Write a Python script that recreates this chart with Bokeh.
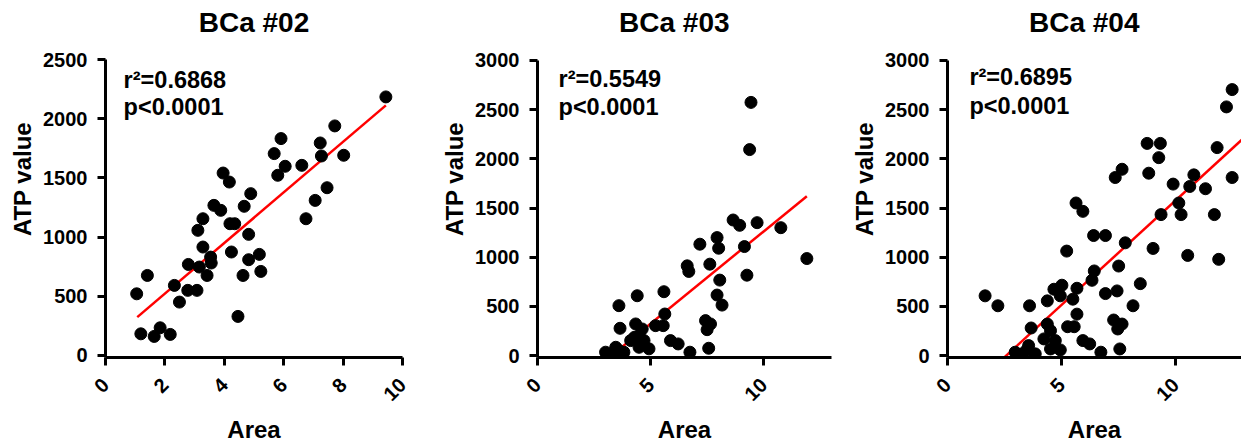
import math
from bokeh.plotting import figure
from bokeh.models import Label, FixedTicker, Range1d
from bokeh.layouts import row
from bokeh.embed import file_html
from bokeh.resources import INLINE

# ---------------- data ----------------
titles = ["BCa #02", "BCa #03", "BCa #04"]
r2_texts = ["r\u00b2=0.6868", "r\u00b2=0.5549", "r\u00b2=0.6895"]
p_text = "p<0.0001"
x_label = "Area"
y_label = "ATP value"

area_02 = [1.05, 1.19, 1.41, 1.64, 1.84, 2.18, 2.32, 2.49, 2.79, 2.77, 3.08, 3.11, 3.28, 3.28,
           3.16, 3.42, 3.54, 3.56, 3.65, 3.88, 3.96, 4.17, 4.19, 4.24, 4.35, 4.46, 4.63, 4.67,
           4.82, 4.82, 4.89, 5.18, 5.23, 5.68, 5.80, 5.91, 6.05, 6.61, 6.75, 7.06, 7.23, 7.27,
           7.46, 7.72, 8.02, 9.44]
atp_02 = [521, 183, 676, 161, 234, 178, 592, 451, 769, 550, 550, 1057, 1155, 916,
          747, 676, 831, 781, 1268, 1226, 1541, 1465, 1113, 874, 1113, 330, 676, 1260,
          1023, 809, 1367, 854, 710, 1705, 1522, 1832, 1598, 1606, 1155, 1310, 1795, 1685,
          1417, 1939, 1691, 2184]

area_03 = [3.01, 3.24, 3.46, 3.60, 3.65, 3.60, 3.82, 4.12, 4.34, 4.41, 4.49, 4.49, 4.71, 4.93,
           4.63, 4.29, 5.22, 5.56, 5.59, 5.63, 5.88, 6.22, 6.62, 6.69, 6.74, 7.18, 7.43, 7.50,
           7.57, 7.65, 7.62, 7.94, 8.01, 7.94, 8.06, 8.16, 8.65, 8.94, 9.15, 9.26, 9.38, 9.44,
           9.71, 10.76, 11.91]
atp_03 = [34, 17, 84, 507, 277, 51, 34, 152, 321, 608, 203, 84, 152, 68,
          270, 186, 304, 304, 649, 422, 152, 118, 912, 855, 34, 1132, 355, 263,
          74, 321, 929, 1199, 1091, 615, 767, 513, 1378, 1324, 1108, 817, 2094, 2574,
          1351, 1300, 986]

area_04 = [1.65, 2.21, 2.97, 3.27, 3.48, 3.60, 3.67, 3.85, 3.56, 4.38, 4.38, 4.23, 4.52, 4.67,
           4.73, 4.95, 4.52, 5.02, 4.95, 5.23, 5.27, 5.50, 5.56, 5.64, 5.68, 5.68, 5.94, 5.94,
           6.24, 6.34, 6.44, 6.41, 6.93, 6.93, 6.73, 7.36, 7.66, 7.29, 7.44, 7.51, 7.56, 7.66,
           7.47, 7.80, 8.14, 8.46, 8.76, 8.83, 9.02, 9.27, 9.34, 9.37, 9.90, 10.15, 10.25, 10.54,
           10.63, 10.81, 11.32, 11.71, 11.83, 11.90, 12.24, 12.49, 12.49]
atp_04 = [607, 506, 34, 17, 57, 506, 280, 17, 101, 556, 320, 169, 253, 674,
          152, 57, 67, 715, 607, 1062, 293, 573, 293, 1551, 421, 684, 1466, 152,
          118, 765, 860, 1220, 1220, 630, 34, 1810, 1894, 361, 657, 910, 67, 320,
          270, 1146, 506, 731, 2157, 1854, 1089, 2012, 2157, 1433, 1743, 1551, 1433, 1018,
          1719, 1837, 1696, 1433, 2114, 978, 2528, 1810, 2704]

# linear fits: (slope, intercept, x_start, x_end)
fit_02 = (213.7, 95.4, 1.07, 9.44)
fit_03 = (187.6, -614.0, 3.0, 11.91)
fit_04 = (212.3, -548.0, 2.4, 13.0)

x_ticks_02 = [0, 2, 4, 6, 8, 10]
x_ticks_34 = [0, 5, 10]
y_ticks_02 = [0, 500, 1000, 1500, 2000, 2500]
y_ticks_34 = [0, 500, 1000, 1500, 2000, 2500, 3000]
y_max_02 = 2500
y_max_34 = 3000

FONT = "Liberation Sans"
FRAME_H = 357   # frame runs from the top of the canvas down to the x axis


def panel(title, xs, ys, fit, xr, yr, ybounds, xticks, yticks, r2, ann, title_pos, borders, frame_w):
    bl, br = borders
    p = figure(frame_width=frame_w, frame_height=FRAME_H,
               min_border_left=bl, min_border_right=br,
               min_border_top=0, min_border_bottom=79,
               x_range=Range1d(*xr), y_range=Range1d(*yr),
               output_backend="svg", toolbar_location=None)
    p.outline_line_color = None
    p.xgrid.visible = False
    p.ygrid.visible = False

    for ax in (p.xaxis[0], p.yaxis[0]):
        ax.axis_line_width = 3
        ax.major_tick_line_width = 3
        ax.major_tick_out = 8
        ax.major_tick_in = 0
        ax.minor_tick_out = 0
        ax.minor_tick_in = 0
        ax.major_label_text_font = FONT
        ax.major_label_text_font_size = "20px"
        ax.major_label_text_font_style = "bold"
        ax.major_label_text_color = "black"
        ax.axis_label_text_font = FONT
        ax.axis_label_text_font_size = "24px"
        ax.axis_label_text_font_style = "bold"
        ax.axis_label_text_color = "black"
        ax.axis_line_color = "black"
        ax.major_tick_line_color = "black"

    p.yaxis.bounds = ybounds
    p.xaxis.ticker = FixedTicker(ticks=xticks)
    p.yaxis.ticker = FixedTicker(ticks=yticks)
    p.xaxis.major_label_orientation = math.pi / 4
    p.xaxis.major_label_standoff = 16
    p.yaxis.major_label_standoff = 10
    p.xaxis.axis_label = x_label
    p.yaxis.axis_label = y_label
    p.xaxis.axis_label_standoff = 6
    p.yaxis.axis_label_standoff = 4

    slope, intercept, x0, x1 = fit
    p.line([x0, x1], [slope * x0 + intercept, slope * x1 + intercept],
           line_color="#ff0000", line_width=2.5)
    p.scatter(xs, ys, size=12, fill_color="black", line_color="black")

    ax_, ay1, ay2 = ann
    for txt, yy in ((r2, ay1), (p_text, ay2)):
        p.add_layout(Label(x=ax_, y=yy, text=txt, text_font=FONT, text_font_size="23.5px",
                           text_font_style="bold", text_color="black",
                           text_baseline="alphabetic"))
    tx, ty = title_pos
    p.add_layout(Label(x=tx, y=ty, text=title, text_font=FONT, text_font_size="28px",
                       text_font_style="bold", text_color="black",
                       text_align="center", text_baseline="alphabetic"))
    return p


# vertical scale: 2517 units / 298 px (panel 1), 3030 units / 298 px (panels 2-3)
top_02 = -17 + FRAME_H * 2517 / 298
top_34 = -20 + FRAME_H * 3030 / 298

p1 = panel(titles[0], area_02, atp_02, fit_02, (0, 10), (-17, top_02), (-17, y_max_02),
           x_ticks_02, y_ticks_02, r2_texts[0], (0.61, 2323, 2103), (5.0, 2812), (105, 26), 297)
p2 = panel(titles[1], area_03, atp_03, fit_03, (0, 13), (-20, top_34), (-20, y_max_34),
           x_ticks_34, y_ticks_34, r2_texts[1], (0.93, 2807, 2522), (6.05, 3386), (109, 9), 294)
p3 = panel(titles[2], area_04, atp_04, fit_04, (0, 12.9), (-20, top_34), (-20, y_max_34),
           x_ticks_34, y_ticks_34, r2_texts[2], (0.96, 2827, 2542), (6.0, 3386), (107, 0), 294)

layout = row(p1, p2, p3)
open("out.html", "w").write(file_html(layout, INLINE))
